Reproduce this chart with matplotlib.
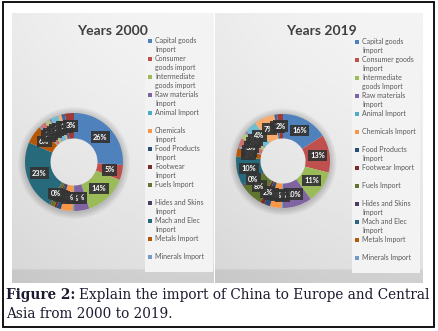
import matplotlib.pyplot as plt
import numpy as np
from matplotlib.patches import Rectangle, Wedge

# categories (legend only lists the first 13, as in the original chart)
categories = ["Capital goods", "Consumer goods", "Intermediate goods", "Raw materials",
              "Animal", "Chemicals", "Food Products", "Footwear", "Fuels",
              "Hides and Skins", "Mach and Elec", "Metals", "Minerals",
              "Miscellaneous", "Plastic or Rubber", "Stone and Glass",
              "Textiles and Clothing", "Transportation", "Vegetable", "Wood"]

share_2000 = [26, 5, 14, 5, 0.4, 4, 1.5, 0.8, 1.5, 0.4, 23, 6,
              0.5, 2, 1.5, 0.8, 2.5, 1, 1.2, 3]
share_2019 = [16, 13, 11, 10, 0.5, 4, 2, 1.5, 8, 0.5, 10, 3,
              0.5, 3, 2, 1, 4, 7, 1, 2]

legend_2000 = ["Capital goods\nImport", "Consumer\ngoods import", "Intermediate\ngoods import",
               "Raw materials\nImport", "Animal Import", "Chemicals\nImport",
               "Food Products\nImport", "Footwear\nImport", "Fuels Import",
               "Hides and Skins\nImport", "Mach and Elec\nImport", "Metals Import",
               "Minerals Import"]
legend_2019 = ["Capital goods\nImport", "Consumer goods\nImport", "Intermediate\ngoods Import",
               "Raw materials\nImport", "Animal Import", "Chemicals Import",
               "Food Products\nImport", "Footwear Import", "Fuels Import",
               "Hides and Skins\nImport", "Mach and Elec\nImport", "Metals Import",
               "Minerals Import"]

colors = ["#4F81BD", "#C0504D", "#9BBB59", "#8064A2", "#4BACC6", "#F79646",
          "#2C4D75", "#772C2A", "#5F7530", "#4D3B62", "#276A7C", "#B65708",
          "#729ACA", "#CD7371", "#AFC97A", "#9983B5", "#6FBDD1", "#F9AB6B",
          "#3A679C", "#9E3B39"]

W, H = 439, 331
fig = plt.figure(figsize=(W / 100, H / 100), dpi=100)
fig.patch.set_facecolor("white")

bg = fig.add_axes([0, 0, 1, 1])
bg.set_xlim(0, W)
bg.set_ylim(H, 0)
bg.axis("off")


def px_axes(x, y, w, h):
    return fig.add_axes([x / W, 1 - (y + h) / H, w / W, h / H])


def panel(x0, x1, y0, y1):
    ny, nx = 120, 80
    ty = np.linspace(0, 1, ny)[:, None]
    tx = np.linspace(0, 1, nx)[None, :]
    g = 0.955 - 0.08 * ty ** 1.3 - 0.035 * (1 - tx) ** 2
    g = np.where(ty > 0.95, g - 0.06, g)
    bg.imshow(g, cmap="gray", vmin=0, vmax=1, extent=(x0, x1, y1, y0),
              aspect="auto", interpolation="bilinear", zorder=1)


def legend(x0, y0, labels):
    bg.add_patch(Rectangle((x0 - 3, y0 - 6), 68, 237, fc="#F3F3F3", ec="none", zorder=2))
    for i, lab in enumerate(labels):
        y = y0 + 18 * i
        bg.add_patch(Rectangle((x0, y - 2), 4, 4, fc=colors[i], ec="none", zorder=3))
        bg.text(x0 + 7, y - 4, lab, fontsize=5.0, family="Lato", color="#595959",
                va="top", ha="left", linespacing=1.35, zorder=4)


def donut(ax, values, width=0.52):
    total = sum(values)
    ax.set_aspect("equal")
    ax.axis("off")
    # soft shadow outside the ring
    for rr in np.linspace(1.02, 1.14, 6):
        ax.add_patch(Wedge((0, -0.02), rr, 0, 360, width=rr - 0.98,
                           fc="black", alpha=0.03, ec="none", zorder=0))
    ax.pie(values, colors=colors, startangle=90, counterclock=False, radius=1,
           wedgeprops=dict(width=width, linewidth=0))
    ax.set_xlim(-1.2, 1.2)
    ax.set_ylim(-1.2, 1.2)
    cum = np.cumsum(values) - np.array(values) / 2
    mid_r = 1 - width / 2
    for v, c in zip(values, cum):
        ang = np.deg2rad(90 - c / total * 360)
        ax.text(mid_r * np.cos(ang), mid_r * np.sin(ang), f"{round(v / total * 100)}%",
                ha="center", va="center", fontsize=5.3, family="Lato", weight="bold",
                color="white", zorder=5,
                bbox=dict(boxstyle="square,pad=0.32", fc="#333333", ec="none", alpha=0.92))


# panels
panel(12, 214, 13, 283)
panel(215, 423, 13, 283)

# titles
bg.text(112, 31, "Years 2000", fontsize=10, family="Lato", weight="bold",
        color="#3F3F3F", ha="center", va="center", zorder=4)
bg.text(321, 31, "Years 2019", fontsize=10, family="Lato", weight="bold",
        color="#3F3F3F", ha="center", va="center", zorder=4)

legend(148, 41, legend_2000)
legend(355, 42, legend_2019)

r1 = 49
ax1 = px_axes(74 - 1.2 * r1, 162 - 1.2 * r1, 2.4 * r1, 2.4 * r1)
donut(ax1, share_2000)
r2 = 47
ax2 = px_axes(283 - 1.2 * r2, 161 - 1.2 * r2, 2.4 * r2, 2.4 * r2)
donut(ax2, share_2019)

# border
bg.add_patch(Rectangle((3, 2), 431, 325, fc="none", ec="black", lw=1.3, zorder=10))

# caption
renderer = fig.canvas.get_renderer()
t = bg.text(6, 299, "Figure 2:", fontsize=9.8, family="DejaVu Serif", weight="bold",
            color="#1C1C30", va="baseline", ha="left", zorder=4)
bb = t.get_window_extent(renderer=renderer)
x_next = 6 + bb.width + 3.5
bg.text(x_next, 299, "Explain the import of China to Europe and Central", fontsize=9.8,
        family="DejaVu Serif", color="#1C1C30", va="baseline", ha="left", zorder=4)
bg.text(6, 318, "Asia from 2000 to 2019.", fontsize=9.8, family="DejaVu Serif",
        color="#1C1C30", va="baseline", ha="left", zorder=4)

fig.savefig("out.png", dpi=100)
